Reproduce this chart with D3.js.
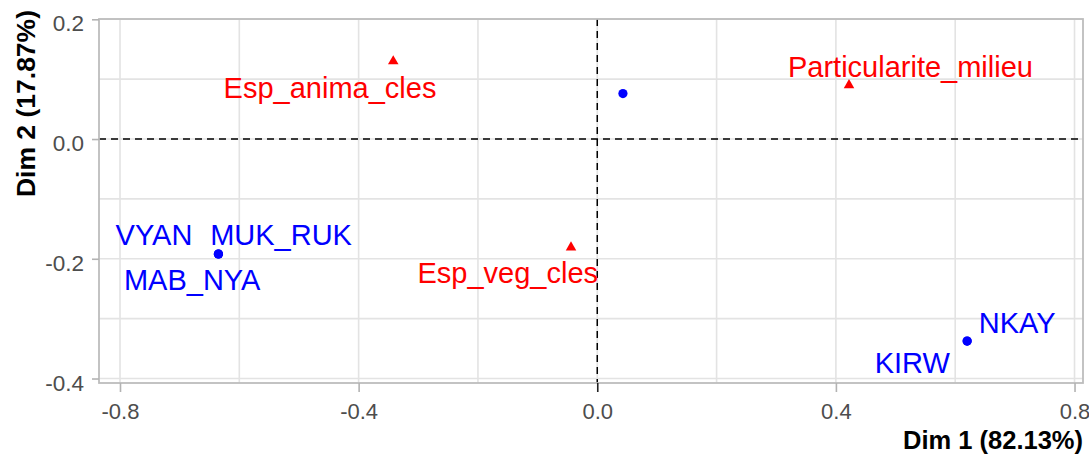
<!DOCTYPE html>
<html>
<head>
<meta charset="utf-8">
<script src="https://cdn.jsdelivr.net/npm/d3@7"></script>
<style>
  html, body { margin: 0; padding: 0; background: #ffffff; }
  svg { display: block; }
</style>
</head>
<body>
<svg id="chart" width="1089" height="455"></svg>
<script>
// ---------------- data ----------------
const individuals   = ["VYAN", "MUK_RUK", "MAB_NYA", "NKAY", "KIRW", "IND6"];
const indDim1       = [-0.635, -0.635, -0.635, 0.620, 0.620, 0.043];
const indDim2       = [-0.192, -0.192, -0.192, -0.3375, -0.3375, 0.076];
const indShowLabel  = [true, true, true, true, true, false];
// repelled label anchors (data units: centre x, baseline y)
const indLabelDim1  = [-0.743, -0.530, -0.679, 0.704, 0.528, null];
const indLabelDim2  = [-0.177, -0.177, -0.252, -0.324, -0.391, null];

const variables     = ["Esp_anima_cles", "Esp_veg_cles", "Particularite_milieu"];
const varDim1       = [-0.342, -0.044, 0.422];
const varDim2       = [0.130, -0.181, 0.090];
const varLabelDim1  = [-0.448, -0.150, 0.525];
const varLabelDim2  = [0.068, -0.241, 0.103];

const xTicks      = [-0.8, -0.4, 0.0, 0.4, 0.8];
const xTickLabels = ["-0.8", "-0.4", "0.0", "0.4", "0.8"];
const yTicks      = [-0.4, -0.2, 0.0, 0.2];
const yTickLabels = ["-0.4", "-0.2", "0.0", "0.2"];
const xGrid = [-0.8, -0.6, -0.4, -0.2, 0.0, 0.2, 0.4, 0.6, 0.8];
const yGrid = [-0.4, -0.3, -0.2, -0.1, 0.0, 0.1, 0.2];
const xTitle = "Dim 1 (82.13%)";
const yTitle = "Dim 2 (17.87%)";

// ---------------- layout ----------------
const panel = { left: 99, right: 1083, top: 19, bottom: 383 };
const FONT = "'Liberation Sans', Arial, Helvetica, sans-serif";

const x = d3.scaleLinear().domain([-0.8352, 0.8142]).range([panel.left, panel.right]);
const y = d3.scaleLinear().domain([-0.4075, 0.2005]).range([panel.bottom, panel.top]);

const svg = d3.select("#chart");

// grid
const grid = svg.append("g");
grid.selectAll("line.gx").data(xGrid).join("line")
  .attr("x1", d => x(d)).attr("x2", d => x(d))
  .attr("y1", panel.top).attr("y2", panel.bottom)
  .attr("stroke", "#e3e3e3").attr("stroke-width", 1.6);
grid.selectAll("line.gy").data(yGrid).join("line")
  .attr("y1", d => y(d)).attr("y2", d => y(d))
  .attr("x1", panel.left).attr("x2", panel.right)
  .attr("stroke", "#e3e3e3").attr("stroke-width", 1.6);

// reference dashed lines
svg.append("line")
  .attr("x1", panel.left).attr("x2", panel.right)
  .attr("y1", y(0)).attr("y2", y(0))
  .attr("stroke", "#000").attr("stroke-width", 1.5).attr("stroke-dasharray", "7,5");
svg.append("line")
  .attr("x1", x(0)).attr("x2", x(0))
  .attr("y1", panel.top).attr("y2", panel.bottom)
  .attr("stroke", "#000").attr("stroke-width", 1.5).attr("stroke-dasharray", "7,5");

// panel border
svg.append("rect")
  .attr("x", panel.left).attr("y", panel.top)
  .attr("width", panel.right - panel.left).attr("height", panel.bottom - panel.top)
  .attr("fill", "none").attr("stroke", "#bdbdbd").attr("stroke-width", 1.8);

// axes
const xAxis = svg.append("g")
  .attr("transform", `translate(0,${panel.bottom})`)
  .call(d3.axisBottom(x).tickValues(xTicks).tickFormat((d, i) => xTickLabels[i]).tickSize(9).tickSizeOuter(0));
xAxis.select(".domain").remove();
xAxis.selectAll(".tick line").attr("stroke", d => d === 0 ? "#222" : "#b3b3b3").attr("stroke-width", 1.6);
xAxis.selectAll(".tick text")
  .attr("y", 36).attr("dy", 0)
  .attr("fill", "#4d4d4d").style("font-family", FONT).style("font-size", "22px");

const yAxis = svg.append("g")
  .attr("transform", `translate(${panel.left},0)`)
  .call(d3.axisLeft(y).tickValues(yTicks).tickFormat((d, i) => yTickLabels[i]).tickSize(7).tickSizeOuter(0));
yAxis.select(".domain").remove();
yAxis.selectAll(".tick line").attr("stroke", "#b3b3b3").attr("stroke-width", 1.6);
yAxis.selectAll(".tick text")
  .attr("x", -15).attr("y", 11.5).attr("dy", 0)
  .attr("fill", "#4d4d4d").style("font-family", FONT).style("font-size", "22.5px");

// axis titles
svg.append("text")
  .attr("x", 1083).attr("y", 449)
  .attr("text-anchor", "end")
  .style("font-family", FONT).style("font-size", "25.5px").style("font-weight", "bold")
  .attr("fill", "#000").text(xTitle);
svg.append("text")
  .attr("transform", "translate(35,10) rotate(-90)")
  .attr("text-anchor", "end")
  .style("font-family", FONT).style("font-size", "26.5px").style("font-weight", "bold")
  .attr("fill", "#000").text(yTitle);

// individuals
const indIdx = d3.range(individuals.length);
svg.append("g").selectAll("circle").data(indIdx).join("circle")
  .attr("cx", i => x(indDim1[i])).attr("cy", i => y(indDim2[i]))
  .attr("r", 4.6).attr("fill", "#0000ff");
svg.append("g").selectAll("text").data(indIdx.filter(i => indShowLabel[i])).join("text")
  .attr("x", i => x(indLabelDim1[i])).attr("y", i => y(indLabelDim2[i]))
  .attr("text-anchor", "middle")
  .style("font-family", FONT).style("font-size", "29px")
  .attr("fill", "#0000ff").text(i => individuals[i]);

// variables
const varIdx = d3.range(variables.length);
svg.append("g").selectAll("path").data(varIdx).join("path")
  .attr("transform", i => `translate(${x(varDim1[i])},${y(varDim2[i])})`)
  .attr("d", d3.symbol(d3.symbolTriangle, 48))
  .attr("fill", "#ff0000");
svg.append("g").selectAll("text").data(varIdx).join("text")
  .attr("x", i => x(varLabelDim1[i])).attr("y", i => y(varLabelDim2[i]))
  .attr("text-anchor", "middle")
  .style("font-family", FONT).style("font-size", "29px")
  .attr("fill", "#ff0000").text(i => variables[i]);
</script>
</body>
</html>
